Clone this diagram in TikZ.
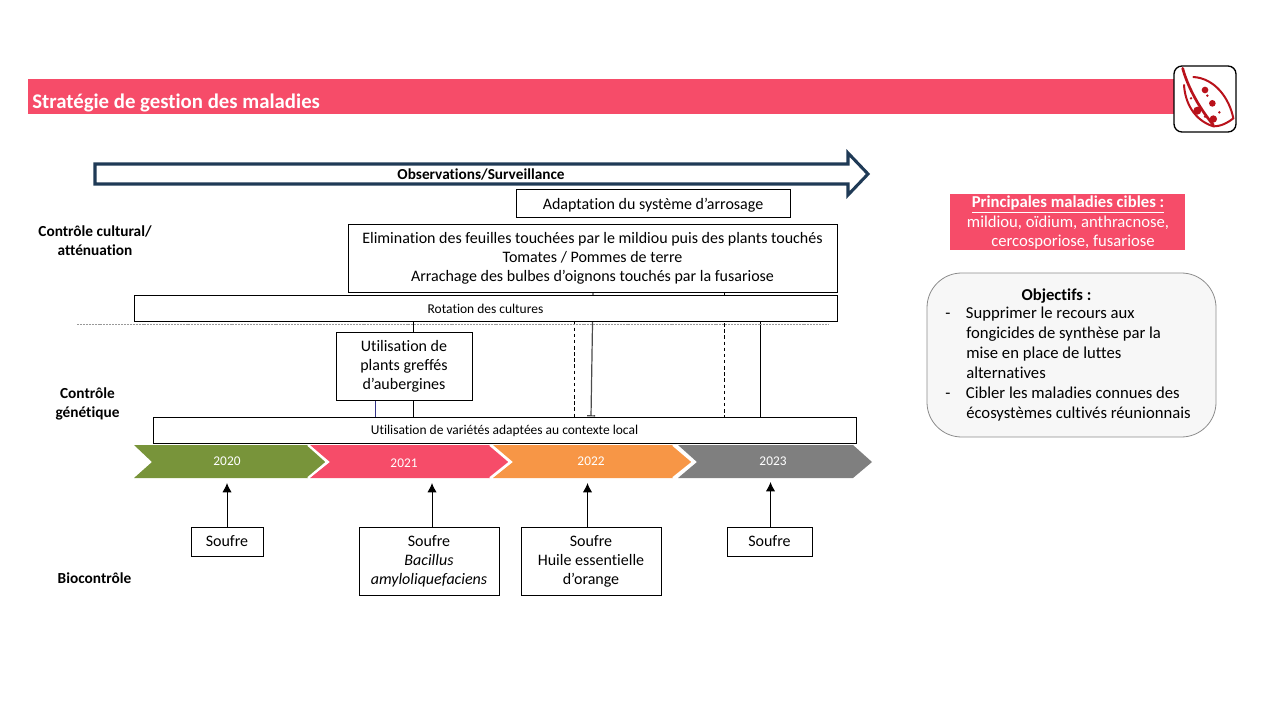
\documentclass[tikz,border=0pt]{standalone}
\usepackage{fontspec}
\setmainfont{Carlito}[Ligatures=NoCommon]
\usetikzlibrary{arrows.meta,backgrounds}
\definecolor{rosered}{HTML}{F64C69}
\definecolor{navy}{HTML}{1F3A56}
\definecolor{olive}{HTML}{78943A}
\definecolor{orangec}{HTML}{F79646}
\definecolor{grayc}{HTML}{7F7F7F}
\definecolor{leafred}{HTML}{B9121B}
\newlength{\pxu}\setlength{\pxu}{0.75pt}
\tikzset{
  x=0.75pt,y=-0.75pt,
  plainbox/.style={draw=black,line width=0.75pt,fill=white,inner sep=0pt,align=center,text=black,font=\fontsize{12pt}{14.3pt}\selectfont},
  boxn/.style={plainbox,execute at begin node={\rule{0pt}{0.88em}}},
  multibox/.style={plainbox,execute at begin node={\rule{0pt}{1.08em}}},
  smalltext/.style={font=\fontsize{10.1pt}{12pt}\selectfont},
  sidelabel/.style={align=center,font=\fontsize{11.5pt}{14.3pt}\selectfont\bfseries,inner sep=0pt},
  chev/.style={draw=white,line width=1.5pt},
  yearlabel/.style={text=white,inner sep=0pt,font=\fontsize{10pt}{12pt}\selectfont},
  vline/.style={draw=black,line width=0.75pt},
  dline/.style={draw=black,line width=0.75pt,dash pattern=on 2.6pt off 2pt},
  upar/.style={draw=black,line width=0.75pt,-{Latex[length=7pt,width=7pt]}},
  spot/.style={fill=leafred,draw=none},
}
\begin{document}
\begin{tikzpicture}
\useasboundingbox (0,0) rectangle (1280,720);
% banner
\fill[rosered] (28,79) rectangle (1176,114);
\node[anchor=west,text=white,inner sep=0pt,font=\fontsize{15.6pt}{18pt}\selectfont\bfseries] (title) at (32,103) {Stratégie de gestion des maladies};
% icon
\node[draw=black,line width=1pt,fill=white,rounded corners=6pt,minimum width=62\pxu,minimum height=66\pxu,inner sep=0pt] (icon) at (1205,99) {};
\begin{scope}[shift={(1160,55)},x=0.25pt,y=-0.25pt]
\draw[leafred,line width=2pt,line cap=round] (68,40) .. controls (80,85) and (110,150) .. (160,210);
\draw[leafred,line width=1.5pt,line cap=round] (72,90) .. controls (75,140) and (100,195) .. (160,214) .. controls (185,214) and (205,202) .. (220,190) .. controls (208,130) and (165,70) .. (100,66);
\fill[spot] (135,105) circle (10) (157,145) circle (10) (112,167) circle (12) (160,192) circle (11);
\fill[spot] (93,130) circle (4) (142,122) circle (4) (135,185) circle (4) (178,172) circle (4);
\end{scope}
% block arrow
\draw[navy,line width=2.3pt,fill=white,miter limit=10] (95,164) -- (848,164) -- (848,153) -- (868,174) -- (848,195) -- (848,184) -- (95,184) -- cycle;
\node[inner sep=0pt,font=\fontsize{11.45pt}{14pt}\selectfont\bfseries] (obs) at (481,174) {Observations/Surveillance};
% boxes
\node[boxn,minimum width=274\pxu,minimum height=28\pxu] (arros) at (653,204) {Adaptation du système d’arrosage};
\node[multibox,minimum width=489\pxu,minimum height=67\pxu] (elim) at (592.5,258.5) {Elimination des feuilles touchées par le mildiou puis des plants touchés\\Tomates / Pommes de terre\\Arrachage des bulbes d’oignons touchés par la fusariose};
\node[boxn,smalltext,minimum width=703\pxu,minimum height=26\pxu] (rot) at (485.5,308) {Rotation des cultures};
\node[multibox,minimum width=136\pxu,minimum height=68\pxu] (aub) at (404,366) {Utilisation de\\plants greffés\\d’aubergines};
\node[boxn,smalltext,minimum width=703\pxu,minimum height=26\pxu] (var) at (504.5,430) {Utilisation de variétés adaptées au contexte local};
% guide line
\coordinate (gl) at (77,324);
\coordinate (gr) at (828,324);
\draw[black!40,line width=0.4pt,dash pattern=on 1.5pt off 0.7pt] (gl) -- (gr);
% connectors behind boxes
\coordinate (c375) at (375,0);
\coordinate (c413) at (413,0);
\coordinate (c574) at (574.5,0);
\coordinate (c593) at (593,0);
\coordinate (c591) at (591,0);
\coordinate (c724) at (724.5,0);
\coordinate (c760) at (760,0);
\begin{pgfonlayer}{background}
\draw[vline] (c413 |- rot.south) -- (c413 |- var.north);
\draw[draw=black!45!blue!60!gray,line width=0.5pt] (c375 |- aub.south) -- (c375 |- var.north);
\draw[dline] (c574 |- rot.south) -- (c574 |- var.north);
\draw[dline] (c724 |- elim.south) -- (c724 |- var.north);
\draw[vline] (c760 |- rot.south) -- (c760 |- var.north);
\draw[draw=black!70,line width=0.9pt,-{Bar[width=6pt,length=1pt]}] (c593 |- elim.south) -- (c591 |- var.north);
\end{pgfonlayer}
% chevrons
\fill[olive] (134,445) -- (308,445) -- (327,462) -- (308,478) -- (134,478) -- (152,462) -- cycle;
\fill[rosered] (310,445) -- (490,445) -- (510,462) -- (490,478) -- (310,478) -- (330,462) -- cycle;
\fill[orangec] (493,445) -- (673,445) -- (693,462) -- (673,478) -- (493,478) -- (513,462) -- cycle;
\fill[grayc] (678,445) -- (853,445) -- (872,462) -- (853,478) -- (678,478) -- (697,462) -- cycle;
\draw[chev] (308,445) -- (327,462) -- (308,478);
\draw[chev] (490,445) -- (510,462) -- (490,478);
\draw[chev] (673,445) -- (693,462) -- (673,478);
\node[yearlabel] (y20) at (227,461) {2020};
\node[yearlabel] (y21) at (404,463) {2021};
\node[yearlabel] (y22) at (591,461) {2022};
\node[yearlabel] (y23) at (773,461) {2023};
% biocontrol boxes
\node[plainbox,minimum width=72\pxu,minimum height=29\pxu] (s20) at (227,541.5) {Soufre};
\node[multibox,minimum width=140\pxu,minimum height=68\pxu] (s21) at (429,561) {Soufre\\\itshape Bacillus\\\itshape amyloliquefaciens};
\node[multibox,minimum width=140\pxu,minimum height=68\pxu] (s22) at (591,561) {Soufre\\Huile essentielle\\d’orange};
\node[plainbox,minimum width=85\pxu,minimum height=29\pxu] (s23) at (769.5,541.5) {Soufre};
\coordinate (a20) at (227,483);
\coordinate (a21) at (432,483);
\coordinate (a22) at (587.5,483);
\coordinate (a23) at (770.5,482);
\draw[upar] (a20 |- s20.north) -- (a20);
\draw[upar] (a21 |- s21.north) -- (a21);
\draw[upar] (a22 |- s22.north) -- (a22);
\draw[upar] (a23 |- s23.north) -- (a23);
% side labels
\node[sidelabel] (l1) at (95,240.5) {Contrôle cultural/\\atténuation};
\node[sidelabel] (l2) at (87.5,404) {Contrôle\\génétique};
\node[sidelabel] (l3) at (94.5,578) {Biocontrôle};
% target panel
\node[fill=rosered,minimum width=235\pxu,minimum height=56\pxu,inner sep=0pt] (tgt) at (1067.5,222) {};
\node[text=white,inner sep=0pt,align=center,font=\fontsize{12.5pt}{14.3pt}\selectfont] (tgtt) at (1068,222.5) {{\bfseries\underline{Principales maladies cibles :}}\\mildiou, oïdium, anthracnose,\\\hspace*{10\pxu}cercosporiose, fusariose};
% objectives panel
\node[draw=black!45,line width=0.6pt,fill=black!3,rounded corners=26pt,minimum width=289\pxu,minimum height=164\pxu,inner sep=0pt] (obj) at (1071.5,355) {};
\node[inner sep=0pt,font=\fontsize{12.5pt}{14pt}\selectfont\bfseries] (objt) at (1056.5,296) {Objectifs :};
\node[anchor=north west,inner sep=0pt,align=left,font=\fontsize{12.5pt}{15pt}\selectfont] (objb) at (945,307) {%
-\hspace{15.5\pxu}Supprimer le recours aux\\
\hspace*{21\pxu}fongicides de synthèse par la\\
\hspace*{21\pxu}mise en place de luttes\\
\hspace*{21\pxu}alternatives\\
-\hspace{15.5\pxu}Cibler les maladies connues des\\
\hspace*{21\pxu}écosystèmes cultivés réunionnais};
\end{tikzpicture}
\end{document}
